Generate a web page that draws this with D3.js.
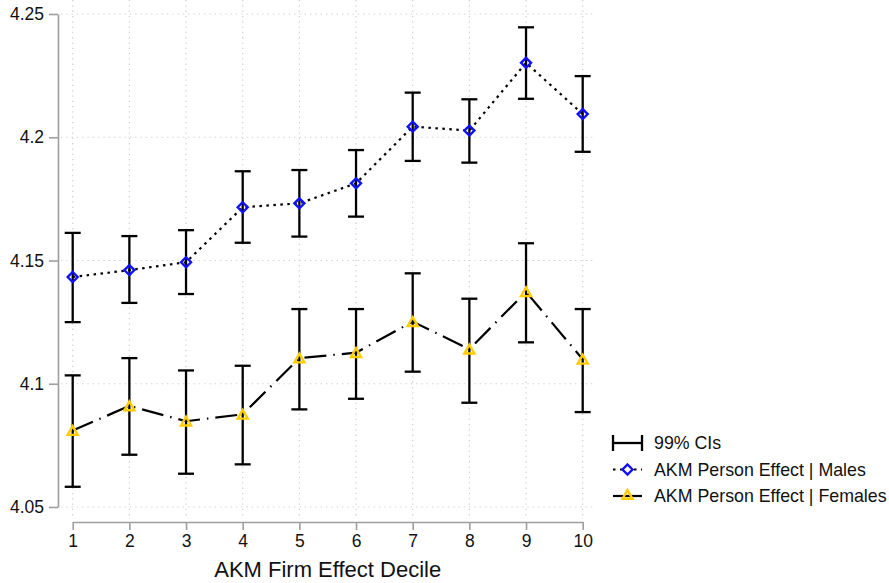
<!DOCTYPE html>
<html>
<head>
<meta charset="utf-8">
<script src="https://cdn.jsdelivr.net/npm/d3@7"></script>
<style>
  html, body { margin: 0; padding: 0; background: #fff; }
  svg { display: block; font-family: "Liberation Sans", Arial, sans-serif; }
</style>
</head>
<body>
<svg id="chart" width="889" height="583"></svg>
<script>
// ---- Data ----
const deciles = [1, 2, 3, 4, 5, 6, 7, 8, 9, 10];
const malesEst = [4.1433, 4.1461, 4.1493, 4.1716, 4.1732, 4.1813, 4.2043, 4.2027, 4.2302, 4.2094];
const malesLo  = [4.1250, 4.1328, 4.1364, 4.1572, 4.1597, 4.1678, 4.1904, 4.1897, 4.2156, 4.1941];
const malesHi  = [4.1612, 4.1599, 4.1623, 4.1862, 4.1867, 4.1948, 4.2181, 4.2154, 4.2446, 4.2248];
const femalesEst = [4.0810, 4.0910, 4.0848, 4.0876, 4.1104, 4.1126, 4.1252, 4.1140, 4.1373, 4.1099];
const femalesLo  = [4.0582, 4.0712, 4.0635, 4.0673, 4.0896, 4.0939, 4.1049, 4.0923, 4.1168, 4.0885];
const femalesHi  = [4.1034, 4.1104, 4.1054, 4.1073, 4.1303, 4.1303, 4.1448, 4.1345, 4.1570, 4.1303];
const yTicks = [4.05, 4.1, 4.15, 4.2, 4.25];
const yTickLabels = ["4.05", "4.1", "4.15", "4.2", "4.25"];
const xTitle = "AKM Firm Effect Decile";
const legendLabels = ["99% CIs", "AKM Person Effect | Males", "AKM Person Effect | Females"];

// ---- Layout ----
const svg = d3.select("#chart");
const x = d3.scaleLinear().domain([1, 10]).range([72.7, 582.7]);
const y = d3.scaleLinear().domain([4.05, 4.25]).range([507, 14]);
const yAxisX = 58, xAxisY = 522;
const fontSize = 17.5;
const axisColor = "#9e9e9e";
const gridColor = "#cfcfcf";
const blue = "#1010ff";
const gold = "#ffcc00";

// ---- Grid ----
const grid = svg.append("g");
grid.selectAll("line.h").data(yTicks).enter().append("line")
  .attr("x1", 61).attr("x2", 594)
  .attr("y1", d => y(d)).attr("y2", d => y(d))
  .attr("stroke", gridColor).attr("stroke-width", 1.2)
  .attr("stroke-dasharray", "1.3,4");
grid.selectAll("line.v").data(deciles).enter().append("line")
  .attr("x1", d => x(d)).attr("x2", d => x(d))
  .attr("y1", 0).attr("y2", 517)
  .attr("stroke", gridColor).attr("stroke-width", 1.2)
  .attr("stroke-dasharray", "1.3,4");

// ---- Axes ----
const yAxis = d3.axisLeft(y).tickValues(yTicks)
  .tickFormat((d, i) => yTickLabels[i])
  .tickSize(9).tickSizeOuter(0).tickPadding(5);
const gy = svg.append("g").attr("transform", `translate(${yAxisX},0)`).call(yAxis);
const xAxis = d3.axisBottom(x).tickValues(deciles).tickFormat(d3.format("d"))
  .tickSize(8).tickSizeOuter(0).tickPadding(4.5);
const gx = svg.append("g").attr("transform", `translate(0,${xAxisY})`).call(xAxis);
[gy, gx].forEach(g => {
  g.select(".domain").attr("stroke", axisColor).attr("stroke-width", 1.6);
  g.selectAll(".tick line").attr("stroke", axisColor).attr("stroke-width", 1.6);
  g.selectAll(".tick text").attr("fill", "#111").attr("font-size", fontSize)
    .attr("font-family", "'Liberation Sans', Arial, sans-serif");
});

svg.append("text")
  .attr("x", (x(1) + x(10)) / 2).attr("y", 577)
  .attr("text-anchor", "middle").attr("font-size", 22).attr("fill", "#111")
  .text(xTitle);

// ---- Series lines ----
const maleData = deciles.map((d, i) => ({ d, v: malesEst[i], lo: malesLo[i], hi: malesHi[i] }));
const femData = deciles.map((d, i) => ({ d, v: femalesEst[i], lo: femalesLo[i], hi: femalesHi[i] }));
const line = d3.line().x(p => x(p.d)).y(p => y(p.v));

svg.append("path").datum(maleData).attr("d", line)
  .attr("fill", "none").attr("stroke", "#000").attr("stroke-width", 2.2)
  .attr("stroke-dasharray", "2.5,4.5");
svg.append("path").datum(femData).attr("d", line)
  .attr("fill", "none").attr("stroke", "#000").attr("stroke-width", 2.2)
  .attr("stroke-dasharray", "22,7,1.5,7");

// ---- Error bars ----
const capW = 8;
function drawCI(data) {
  const g = svg.append("g").attr("stroke", "#000").attr("stroke-width", 2.3).attr("fill", "none");
  g.selectAll("line.s").data(data).enter().append("line")
    .attr("x1", p => x(p.d)).attr("x2", p => x(p.d))
    .attr("y1", p => y(p.lo)).attr("y2", p => y(p.hi));
  g.selectAll("line.t").data(data).enter().append("line")
    .attr("x1", p => x(p.d) - capW).attr("x2", p => x(p.d) + capW)
    .attr("y1", p => y(p.hi)).attr("y2", p => y(p.hi));
  g.selectAll("line.b").data(data).enter().append("line")
    .attr("x1", p => x(p.d) - capW).attr("x2", p => x(p.d) + capW)
    .attr("y1", p => y(p.lo)).attr("y2", p => y(p.lo));
}
drawCI(maleData);
drawCI(femData);

// ---- Markers ----
const diamond = "M0,-5 L5,0 L0,5 L-5,0 Z";
const triangle = "M0,-5 L5,3.8 L-5,3.8 Z";
svg.append("g").selectAll("path").data(maleData).enter().append("path")
  .attr("d", diamond).attr("transform", p => `translate(${x(p.d)},${y(p.v)})`)
  .attr("fill", "none").attr("stroke", blue).attr("stroke-width", 2.4);
svg.append("g").selectAll("path").data(femData).enter().append("path")
  .attr("d", triangle).attr("transform", p => `translate(${x(p.d)},${y(p.v) + 0.5})`)
  .attr("fill", "none").attr("stroke", gold).attr("stroke-width", 2.4)
  .attr("stroke-linejoin", "miter");

// ---- Legend ----
const lg = svg.append("g");
const lx0 = 613, lx1 = 642, lxm = 627.5, ltx = 654;
const rows = [443, 469.5, 496];
// CI symbol
lg.append("line").attr("x1", lx0).attr("x2", lx1).attr("y1", rows[0]).attr("y2", rows[0])
  .attr("stroke", "#000").attr("stroke-width", 2.3);
[lx0, lx1].forEach(xx => lg.append("line").attr("x1", xx).attr("x2", xx)
  .attr("y1", rows[0] - 8).attr("y2", rows[0] + 8).attr("stroke", "#000").attr("stroke-width", 2.3));
// Males
lg.append("line").attr("x1", lx0).attr("x2", lx1).attr("y1", rows[1]).attr("y2", rows[1])
  .attr("stroke", "#000").attr("stroke-width", 2.2).attr("stroke-dasharray", "2.5,4.5");
lg.append("path").attr("d", diamond).attr("transform", `translate(${lxm},${rows[1]})`)
  .attr("fill", "#fff").attr("stroke", blue).attr("stroke-width", 2.4);
// Females
lg.append("line").attr("x1", lx0).attr("x2", lx1).attr("y1", rows[2]).attr("y2", rows[2])
  .attr("stroke", "#000").attr("stroke-width", 2.2);
lg.append("path").attr("d", triangle).attr("transform", `translate(${lxm},${rows[2] - 1})`)
  .attr("fill", "none").attr("stroke", gold).attr("stroke-width", 2.4);
lg.selectAll("text").data(legendLabels).enter().append("text")
  .attr("x", ltx).attr("y", (d, i) => rows[i] + 6)
  .attr("font-size", 17.8).attr("fill", "#111")
  .text(d => d);
</script>
</body>
</html>
